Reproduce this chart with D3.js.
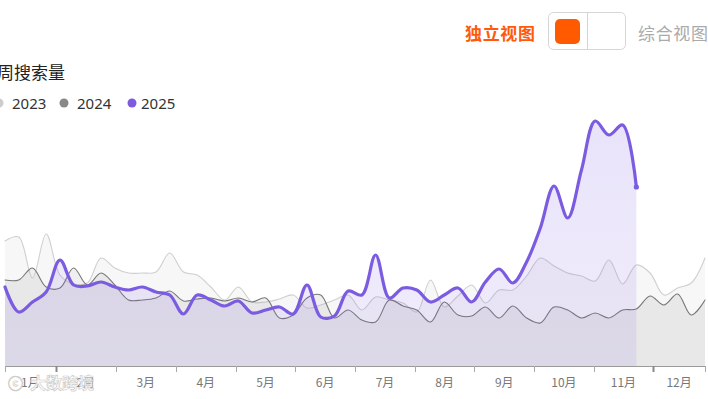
<!DOCTYPE html>
<html><head><meta charset="utf-8">
<script src="https://cdn.jsdelivr.net/npm/d3@7/dist/d3.min.js"></script>
<style>
html,body{margin:0;padding:0;background:#fff;overflow:hidden}
svg{display:block}
</style></head>
<body><svg id="c" width="708" height="399"></svg>
<script>
const seriesNames = ["2023","2024","2025"];
const monthLabels = ["1月","2月","3月","4月","5月","6月","7月","8月","9月","10月","11月","12月"];
// month boundaries in week-index units
const monthBounds = [0, 3.7, 8.07, 12.44, 16.81, 21.15, 25.5, 29.87, 34.2, 38.55, 42.9, 47.22, 51];
const v2023 = [12500,12900,8800,13200,9100,8200,8300,10800,9800,9300,9300,9400,11300,9400,9100,7900,6600,7900,6400,6400,6700,7100,5800,6100,6600,7100,5600,6900,6600,6300,5400,8600,5900,7000,8100,6300,7600,7600,9000,10800,10000,9300,9000,8500,10600,8200,10100,9300,7100,7800,8300,10800];
const v2024 = [8600,8600,9800,7900,7800,9800,8100,9300,8100,6600,6600,6800,7500,6500,6700,6800,6500,6800,6400,6800,4800,5100,6800,7100,4800,5600,4600,4400,6600,6000,5600,4400,6400,5100,5000,5900,4800,6000,4800,4300,5900,5600,4800,5300,4800,5600,5700,7000,6100,7200,5100,6600];
const v2025 = [7900,5400,6400,7400,10600,8100,8000,8400,7900,7600,7900,7400,7100,5200,7100,6600,6000,6500,5300,5600,5900,5200,8100,4900,5000,7500,7100,11100,6800,7800,7600,6400,7100,7800,6400,8400,9700,8300,10400,13800,18000,14800,19600,24500,23100,24100,17900];

const svg = d3.select("#c");
const x = d3.scaleLinear().domain([0, 51]).range([5, 705]);
const y = d3.scaleLinear().domain([0, 25000]).range([366, 116]);

const defs = svg.append("defs");
const g25 = defs.append("linearGradient").attr("id","g25").attr("x1",0).attr("y1",0).attr("x2",0).attr("y2",1);
g25.append("stop").attr("offset","0%").attr("stop-color","#7b5ce0").attr("stop-opacity",0.17);
g25.append("stop").attr("offset","100%").attr("stop-color","#7b5ce0").attr("stop-opacity",0.11);

const curve = d3.curveCatmullRom.alpha(0.5);
const cfg = [
  {data:v2023, line:"#cfcfcf", lw:1.1, fill:"rgba(190,190,190,0.13)"},
  {data:v2024, line:"#777777", lw:1.1, fill:"rgba(150,150,150,0.15)"},
  {data:v2025, line:"#7b5ce0", lw:3.2, fill:"url(#g25)"}
];
cfg.forEach(c => {
  const pts = c.data.map((v,i)=>[i,v]);
  const area = d3.area().x(d=>x(d[0])).y0(y(0)).y1(d=>y(d[1])).curve(curve);
  const line = d3.line().x(d=>x(d[0])).y(d=>y(d[1])).curve(curve);
  svg.append("path").attr("d", area(pts)).attr("fill", c.fill);
  svg.append("path").attr("d", line(pts)).attr("fill","none").attr("stroke", c.line)
     .attr("stroke-width", c.lw).attr("stroke-linejoin","round").attr("stroke-linecap","round");
});
// end dot for 2025
svg.append("circle").attr("cx", x(v2025.length-1)).attr("cy", y(v2025[v2025.length-1]))
   .attr("r", 2.6).attr("fill","#7b5ce0");

// x axis
const ax = svg.append("g");
ax.append("line").attr("x1", x(0)).attr("x2", x(51)).attr("y1", 366.5).attr("y2", 366.5)
  .attr("stroke","#9a9a9a").attr("stroke-width",1);
monthBounds.forEach((b,i) => {
  const thick = (i===1 || i===11);
  ax.append("line").attr("x1", Math.round(x(b))+0.5).attr("x2", Math.round(x(b))+0.5)
    .attr("y1", 366).attr("y2", 372).attr("stroke", thick ? "#888" : "#aaa").attr("stroke-width", thick?2:1);
});
monthLabels.forEach((m,i) => {
  ax.append("text").attr("x", x((monthBounds[i]+monthBounds[i+1])/2)).attr("y", 387)
    .attr("text-anchor","middle").attr("font-family","'Noto Sans CJK SC','Noto Sans',sans-serif")
    .attr("font-size",12).attr("fill","#777").text(m);
});

// watermark
const wm = svg.append("g").attr("opacity",0.85);
wm.append("text").attr("x",8).attr("y",389).attr("font-family","'Noto Sans CJK SC',sans-serif")
  .attr("font-size",15).attr("font-weight","bold").attr("fill","#fff").attr("stroke","#c4c4c4").attr("stroke-width",0.7)
  .text("ⓒ");
wm.append("text").attr("x",30).attr("y",389).attr("font-family","'Noto Sans CJK SC',sans-serif")
  .attr("font-size",16).attr("font-weight","bold").attr("fill","#fff").attr("stroke","#c4c4c4").attr("stroke-width",0.7)
  .attr("letter-spacing",0).text("大数跨境");

// title
svg.append("text").attr("x",-3).attr("y",79).attr("font-family","'Noto Sans CJK SC',sans-serif")
  .attr("font-size",17).attr("fill","#222").text("周搜索量");

// legend
const legColors = ["#cccccc","#888888","#7b5ce0"];
const legCx = [-1, 64, 132];
const legTx = [12, 77, 141];
seriesNames.forEach((n,i) => {
  svg.append("circle").attr("cx", legCx[i]).attr("cy", 103).attr("r", 4.5).attr("fill", legColors[i]);
  svg.append("text").attr("x", legTx[i]).attr("y", 108.5).attr("font-family","'Noto Sans',sans-serif")
    .attr("font-size",15).attr("fill","#333").text(n);
});

// view toggle
svg.append("text").attr("x",465).attr("y",40).attr("font-family","'Noto Sans CJK SC',sans-serif")
  .attr("font-size",17).attr("font-weight","bold").attr("fill","#ff5a0a").attr("textLength",70).text("独立视图");
svg.append("rect").attr("x",548.5).attr("y",12.5).attr("width",77).attr("height",37).attr("rx",5)
  .attr("fill","#fff").attr("stroke","#d6d6d6");
svg.append("line").attr("x1",587.5).attr("x2",587.5).attr("y1",13).attr("y2",49).attr("stroke","#d6d6d6");
svg.append("rect").attr("x",555).attr("y",19).attr("width",25).attr("height",25).attr("rx",5).attr("fill","#ff5a00");
svg.append("text").attr("x",638).attr("y",40).attr("font-family","'Noto Sans CJK SC',sans-serif")
  .attr("font-size",17).attr("fill","#aaa").attr("textLength",70).text("综合视图");
</script>
</body></html>
